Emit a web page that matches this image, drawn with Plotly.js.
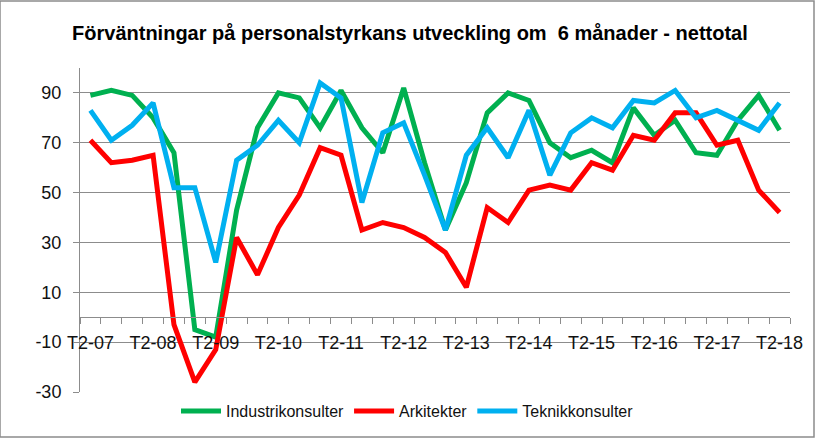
<!DOCTYPE html>
<html>
<head>
<meta charset="utf-8">
<script src="https://cdn.plot.ly/plotly-3.0.1.min.js"></script>
<style>
  html, body { margin: 0; padding: 0; background: #fff; }
  #chart { width: 815px; height: 438px; }
</style>
</head>
<body>
<div id="chart"></div>
<script>
// Tertialer T2-07 ... T2-18 (3 per år)
const kategorier = [
  "T2-07", "T3-07", "T1-08", "T2-08", "T3-08", "T1-09", "T2-09", "T3-09",
  "T1-10", "T2-10", "T3-10", "T1-11", "T2-11", "T3-11", "T1-12", "T2-12",
  "T3-12", "T1-13", "T2-13", "T3-13", "T1-14", "T2-14", "T3-14", "T1-15",
  "T2-15", "T3-15", "T1-16", "T2-16", "T3-16", "T1-17", "T2-17", "T3-17",
  "T1-18", "T2-18"
];

// Endast var tredje kategori får en etikett
const tickEtiketter = [
  "T2-07", "T2-08", "T2-09", "T2-10", "T2-11", "T2-12",
  "T2-13", "T2-14", "T2-15", "T2-16", "T2-17", "T2-18"
];

const industrikonsulter = [
  89, 91, 89, 80, 66, -5, -8, 43, 76, 90, 88, 76,
  91, 76, 66, 92, 62, 35, 54, 82, 90, 87, 70, 64,
  67, 62, 84, 73, 79, 66, 65, 79, 89, 75
];

const arkitekter = [
  71, 62, 63, 65, -3, -26, -13, 32, 17, 36, 49, 68,
  65, 35, 38, 36, 32, 26, 12, 44, 38, 51, 53, 51,
  62, 59, 73, 71, 82, 82, 69, 71, 51, 42
];

const teknikkonsulter = [
  83, 71, 77, 86, 52, 52, 22, 63, 69, 79, 70, 94,
  88, 46, 74, 78, 57, 35, 65, 76, 64, 83, 57, 74,
  80, 76, 87, 86, 91, 80, 83, 79, 75, 86
];

const yTicks = [-30, -10, 10, 30, 50, 70, 90];
const yTickText = ["-30", "-10", "10", "30", "50", "70", "90"];

const fontNamn = "Liberation Sans, Arial, sans-serif";
const gridFarg = "#8c8c8c";

function serie(namn, y, farg) {
  return {
    x: kategorier,
    y: y,
    type: "scatter",
    mode: "lines",
    name: namn,
    line: { color: farg, width: 5, shape: "linear" },
    hoverinfo: "x+y+name"
  };
}

const traces = [
  serie("Industrikonsulter", industrikonsulter, "#00b050"),
  serie("Arkitekter", arkitekter, "#ff0000"),
  serie("Teknikkonsulter", teknikkonsulter, "#00b0f0")
];

// etikett endast där kategorin finns i tickEtiketter
const tickText = kategorier.map((k) => (tickEtiketter.includes(k) ? k : ""));

const yMin = -30;
const yMax = 100;

const layout = {
  width: 815,
  height: 438,
  paper_bgcolor: "#ffffff",
  plot_bgcolor: "#ffffff",
  margin: { l: 80, r: 25, t: 68, b: 46 },
  showlegend: true,
  title: {
    text: "<b>Förväntningar på personalstyrkans utveckling om \u00a06 månader - nettotal</b>",
    font: { family: "Liberation Sans Narrow, Arial Narrow, sans-serif", size: 20, color: "#000" },
    x: 0.503,
    xanchor: "center",
    y: 0.925,
    yanchor: "middle"
  },
  xaxis: {
    type: "category",
    range: [-0.5, kategorier.length - 0.5],
    tickvals: kategorier,
    ticktext: tickText,
    tickson: "boundaries",
    tickangle: 0,
    ticks: "outside",
    ticklen: 6,
    tickcolor: gridFarg,
    showline: true,
    linecolor: gridFarg,
    linewidth: 1,
    showgrid: false,
    anchor: "free",
    position: (0 - yMin) / (yMax - yMin),
    tickfont: { family: fontNamn, size: 18, color: "#111" },
    ticklabelstandoff: 9,
    fixedrange: true
  },
  yaxis: {
    range: [yMin, yMax],
    tickvals: yTicks,
    ticktext: yTickText,
    ticks: "outside",
    ticklen: 6,
    tickcolor: gridFarg,
    showline: true,
    linecolor: gridFarg,
    linewidth: 1,
    showgrid: true,
    gridcolor: gridFarg,
    gridwidth: 1,
    zeroline: false,
    tickfont: { family: fontNamn, size: 18, color: "#111" },
    ticklabelstandoff: 8,
    fixedrange: true
  },
  legend: {
    orientation: "h",
    xref: "container",
    yref: "container",
    x: 0.5,
    xanchor: "center",
    y: 1 - 411 / 438,
    yanchor: "middle",
    font: { family: fontNamn, size: 16, color: "#111" },
    itemwidth: 40,
    tracegroupgap: 0
  },
  shapes: [
    {
      type: "rect",
      xref: "paper",
      yref: "paper",
      x0: -80 / 710,
      x1: 1 + 24 / 710,
      y0: -45 / 324,
      y1: 1 + 67 / 324,
      line: { color: "#8c8c8c", width: 1.5 },
      fillcolor: "rgba(0,0,0,0)",
      layer: "below"
    }
  ]
};

Plotly.newPlot("chart", traces, layout, { staticPlot: true, displayModeBar: false });
</script>
</body>
</html>
